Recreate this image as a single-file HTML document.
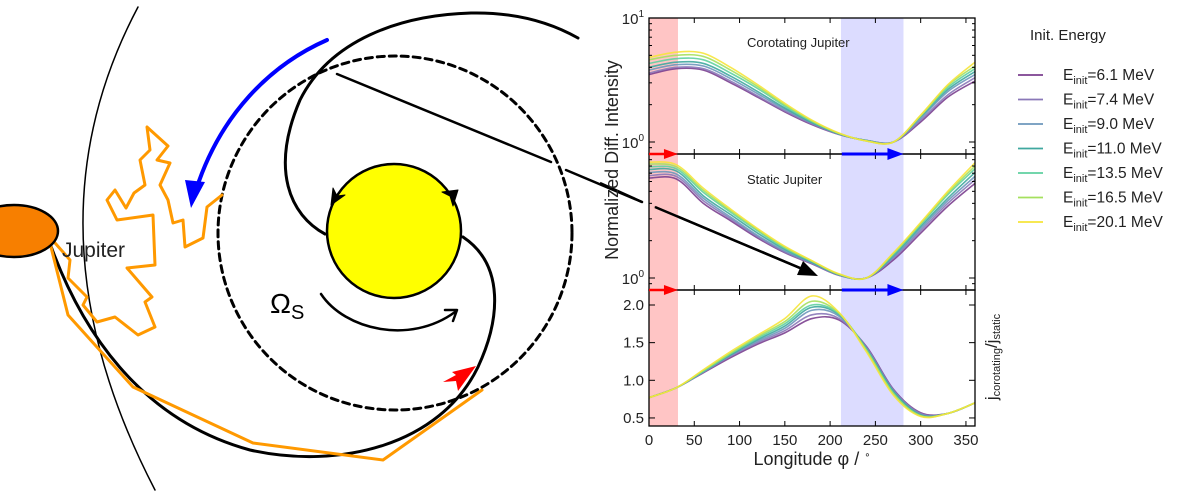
<!DOCTYPE html>
<html><head><meta charset="utf-8"><style>
html,body{margin:0;padding:0;background:#fff;width:1200px;height:493px;overflow:hidden}
svg{display:block;font-family:"Liberation Sans","DejaVu Sans",sans-serif}
</style></head><body>
<svg id="fig" width="1200" height="493" viewBox="0 0 1200 493">
<g fill="none" stroke-linecap="round" stroke-linejoin="round">
  <path d="M138,7 Q20,230 155,490" stroke="#000" stroke-width="1.5"/>
  <ellipse cx="395" cy="233" rx="177" ry="177" stroke="#000" stroke-width="3" stroke-dasharray="7,5"/>
  <path d="M48,238 C80,330 140,420 250,450 C340,470 440,445 478,367 C500,320 505,265 463,237" stroke="#000" stroke-width="3"/>
  <path d="M325,234 C290,215 270,170 300,100 C330,40 400,15 471,13 C520,12 555,25 578,38" stroke="#000" stroke-width="3"/>
  <circle cx="394" cy="231" r="67" fill="#ffff00" stroke="#000" stroke-width="2.5"/>
  <polygon points="331,205 333,188 337,196 345,195" fill="#000" stroke="#000" stroke-width="1"/>
  <polygon points="458,190 442,192 450,196 453,206" fill="#000" stroke="#000" stroke-width="1"/>
  <path d="M337,74 L551,162 M566,170 L642,202 M655,207 L800,268" stroke="#000" stroke-width="2.5"/>
  <path d="M327,40 C270,65 220,115 196,190" stroke="#0000ff" stroke-width="4"/>
  <polygon points="191,208 185,180 205,182" fill="#0000ff"/>
  <path d="M222,195 L207,207 L203,238 L185,247 L183,220 L173,223 L168,200 L160,185 L170,163 L157,160 L168,146 L147,127 L150,150 L140,160 L145,185 L134,193 L126,208 L115,190 L107,200 L117,220 L153,215 L155,265 L127,268 L152,297 L145,302 L155,327 L138,335 L115,317 L97,322 L83,305 L87,297 L68,278 L70,260 L48,235" stroke="#ff9900" stroke-width="3"/>
  <path d="M48,235 L68,315 L133,387 L253,443 L383,460 L482,390" stroke="#ff9900" stroke-width="3"/>
  <ellipse cx="14" cy="231" rx="44" ry="26" fill="#f77f00" stroke="#000" stroke-width="2.5"/>
  <text x="62" y="257" font-size="21" fill="#222" stroke="none">Jupiter</text>
  <text x="270" y="313" font-size="28" fill="#000" stroke="none">Ω<tspan font-size="20" dy="6">S</tspan></text>
  <path d="M321,294 C345,330 410,345 455,312" stroke="#000" stroke-width="2.5"/>
  <path d="M457,310 l-12,0 M457,310 l-4,11" stroke="#000" stroke-width="2.5"/>
  <polygon points="476,366 452,372 456,375 443,382 456,381 458,391" fill="#ff0000"/>
</g>
<g id="chart"></g>
</svg>
<script>
const phis = [0,30,60,90,120,150,180,210,240,270,300,330,360];
const energies = ["6.1","7.4","9.0","11.0","13.5","16.5","20.1"];
const colors = ["#7b3f8f","#8a78b8","#6d97bb","#3fa89f","#5fd0a0","#a5e05e","#f6e43a"];
const corot1=[3.5,3.9,3.8,3.0,2.3,1.75,1.38,1.15,1.03,1.0,1.45,2.3,3.1];
const corot2=[3.6,4.0,3.9,3.1,2.35,1.78,1.4,1.15,1.03,1.0,1.5,2.4,3.3];
const corot3=[3.8,4.2,4.1,3.25,2.45,1.83,1.42,1.16,1.03,1.0,1.55,2.55,3.5];
const corot4=[4.0,4.4,4.3,3.4,2.55,1.88,1.44,1.16,1.03,1.0,1.6,2.65,3.7];
const corot5=[4.3,4.7,4.6,3.6,2.7,1.95,1.46,1.17,1.02,1.0,1.62,2.75,3.9];
const corot6=[4.6,5.0,4.9,3.8,2.8,2.0,1.48,1.17,1.02,1.0,1.63,2.85,4.1];
const corot7=[4.8,5.3,5.2,4.0,2.9,2.05,1.5,1.18,1.02,1.0,1.65,2.9,4.4];
const stat1=[6.4,6.3,4.0,2.9,2.1,1.6,1.3,1.05,1.0,1.4,2.3,3.8,5.8];
const stat2=[6.7,6.6,4.2,3.0,2.15,1.62,1.31,1.05,1.0,1.45,2.4,4.0,6.2];
const stat3=[7.1,6.9,4.4,3.1,2.2,1.65,1.32,1.06,1.0,1.48,2.5,4.2,6.6];
const stat4=[7.5,7.3,4.6,3.25,2.3,1.7,1.34,1.06,1.0,1.52,2.6,4.4,7.1];
const stat5=[7.9,7.6,4.9,3.4,2.4,1.74,1.36,1.07,1.0,1.55,2.7,4.7,7.6];
const stat6=[8.3,7.9,5.1,3.5,2.45,1.77,1.37,1.07,1.0,1.58,2.75,4.85,8.0];
const stat7=[8.6,8.2,5.3,3.6,2.5,1.8,1.38,1.08,1.0,1.6,2.8,5.0,8.5];
const ratio1=[0.77,0.9,1.1,1.3,1.48,1.63,1.82,1.8,1.45,0.88,0.57,0.56,0.7];
const ratio2=[0.77,0.9,1.11,1.32,1.5,1.66,1.87,1.82,1.44,0.87,0.56,0.56,0.7];
const ratio3=[0.77,0.9,1.11,1.33,1.52,1.69,1.93,1.85,1.43,0.86,0.55,0.56,0.7];
const ratio4=[0.77,0.9,1.12,1.34,1.54,1.72,1.97,1.87,1.42,0.85,0.54,0.56,0.7];
const ratio5=[0.77,0.9,1.12,1.35,1.56,1.75,2.0,1.88,1.41,0.83,0.53,0.56,0.7];
const ratio6=[0.77,0.9,1.13,1.36,1.58,1.78,2.05,1.89,1.4,0.82,0.53,0.56,0.7];
const ratio7=[0.77,0.9,1.14,1.38,1.6,1.82,2.12,1.9,1.38,0.8,0.52,0.56,0.7];
const xTicks=[0,50,100,150,200,250,300,350];
const ratioTicks=[0.5,1.0,1.5,2.0];
const redBand=[0,32];
const blueBand=[212,281];

const NS="http://www.w3.org/2000/svg";
const chart=document.getElementById('chart');
function mk(tag,attrs,parent){const e=document.createElementNS(NS,tag);for(const k in attrs)e.setAttribute(k,attrs[k]);(parent||chart).appendChild(e);return e;}
const X0=649,X1=975;
const xs=p=>X0+(p/360)*(X1-X0);
const panels=[{top:18,bot:154,log:true},{top:154,bot:290,log:true},{top:290,bot:426,log:false}];
const yTop=v=>142-Math.log10(v)*124;
const yMid=v=>278-Math.log10(v)*124;
const yBot=v=>305+(2-v)*75.3;
function smoothPath(xsArr,ysArr){let d=`M${xsArr[0]},${ysArr[0]}`;for(let i=0;i<xsArr.length-1;i++){const x0=xsArr[Math.max(i-1,0)],y0=ysArr[Math.max(i-1,0)],x1=xsArr[i],y1=ysArr[i],x2=xsArr[i+1],y2=ysArr[i+1],x3=xsArr[Math.min(i+2,xsArr.length-1)],y3=ysArr[Math.min(i+2,ysArr.length-1)];d+=` C${x1+(x2-x0)/6},${y1+(y2-y0)/6} ${x2-(x3-x1)/6},${y2-(y3-y1)/6} ${x2},${y2}`;}return d;}
let rb=mk('rect',{x:xs(redBand[0]),y:18,width:xs(redBand[1])-xs(redBand[0]),height:408,fill:'#ffbbbb',opacity:0.85});


let bb=mk('rect',{x:xs(blueBand[0]),y:18,width:xs(blueBand[1])-xs(blueBand[0]),height:408,fill:'#dcdcff'});


const sets=[[corot1,corot2,corot3,corot4,corot5,corot6,corot7],[stat1,stat2,stat3,stat4,stat5,stat6,stat7],[ratio1,ratio2,ratio3,ratio4,ratio5,ratio6,ratio7]];
const yfs=[yTop,yMid,yBot];
const pnames=['corotating','static','ratio'];
sets.forEach((set,pi)=>{set.forEach((vals,si)=>{const p=mk('path',{d:smoothPath(phis.map(xs),vals.map(yfs[pi])),fill:'none',stroke:colors[si],'stroke-width':1.6,opacity:0.9});

});});
panels.forEach((pn,pi)=>{const r=mk('rect',{x:X0,y:pn.top,width:X1-X0,height:pn.bot-pn.top,fill:'none',stroke:'#000','stroke-width':1.3});


xTicks.forEach(t=>{mk('line',{x1:xs(t),x2:xs(t),y1:pn.top,y2:pn.top+5,stroke:'#000'});mk('line',{x1:xs(t),x2:xs(t),y1:pn.bot,y2:pn.bot-5,stroke:'#000'});});
if(pn.log){const yf=yfs[pi];[0.8,0.9,1,2,3,4,5,6,7,8,9,10].forEach(v=>{const y=yf(v);if(y<pn.top-0.5||y>pn.bot+0.5)return;const L=(v===1||v===10)?6:3;mk('line',{x1:X0,x2:X0+L,y1:y,y2:y,stroke:'#000'});mk('line',{x1:X1,x2:X1-L,y1:y,y2:y,stroke:'#000'});});}
});
ratioTicks.forEach(v=>{const y=yBot(v);mk('line',{x1:X0,x2:X0+6,y1:y,y2:y,stroke:'#000'});mk('line',{x1:X1,x2:X1-6,y1:y,y2:y,stroke:'#000'});
const t=mk('text',{x:X0-5,y:y+5,'font-size':15,'text-anchor':'end',fill:'#222'});t.textContent=v.toFixed(1);

});
xTicks.forEach(v=>{const t=mk('text',{x:xs(v),y:445,'font-size':15,'text-anchor':'middle',fill:'#222'});t.textContent=v;

});
[[142,'10','0'],[18,'10','1'],[278,'10','0']].forEach(([y,b,e])=>{const t=mk('text',{x:X0-5,y:y+6,'font-size':15,'text-anchor':'end',fill:'#222'});t.innerHTML=b+'<tspan font-size="10" dy="-7">'+e+'</tspan>';

});
[154,290].forEach(y=>{mk('line',{x1:X0,x2:X0+22,y1:y,y2:y,stroke:'#ff0000','stroke-width':2.5});const a=mk('polygon',{points:`${xs(32)},${y} ${xs(32)-14},${y-5} ${xs(32)-14},${y+5}`,fill:'#ff0000'});


mk('line',{x1:xs(213),x2:xs(268),y1:y,y2:y,stroke:'#0000ff','stroke-width':3});const b=mk('polygon',{points:`${xs(281)},${y} ${xs(281)-16},${y-6} ${xs(281)-16},${y+6}`,fill:'#0000ff'});

});
let ov=mk('path',{d:'M600,183 L642,202 M655,207 L800,268',stroke:'#000','stroke-width':2.5,fill:'none'});


let ah=mk('polygon',{points:'818,276 797,275 803,261',fill:'#000'});


function txt(x,y,s,size,name,extra){const t=mk('text',Object.assign({x:x,y:y,'font-size':size,fill:'#222'},extra||{}));t.innerHTML=s;return t;}
txt(747,47,'Corotating Jupiter',13,'corotating-title');
txt(747,184,'Static Jupiter',13,'static-title');
txt(812,465,'Longitude φ / <tspan font-size="10" dy="-7">∘</tspan>',18,'x-axis-title',{'text-anchor':'middle'});
txt(0,0,'Normalized Diff. Intensity',18,'y-axis-title',{'text-anchor':'middle',transform:'translate(618,160) rotate(-90)'});
txt(0,0,'j<tspan font-size="11" dy="3">corotating</tspan><tspan dy="-3">/j</tspan><tspan font-size="11" dy="3">static</tspan>',17,'ratio-axis-title',{'text-anchor':'middle',transform:'translate(997,357) rotate(-90)'});
txt(1030,40,'Init. Energy',15,'legend-title');
energies.forEach((e,i)=>{const y=75+i*24.5;const l=mk('line',{x1:1018,x2:1043,y1:y,y2:y,stroke:colors[i],'stroke-width':1.8});


txt(1063,y+5,'E<tspan font-size="11" dy="4">init</tspan><tspan dy="-4">='+e+' MeV</tspan>',15.5,'legend-entry');});
</script>
</body></html>
